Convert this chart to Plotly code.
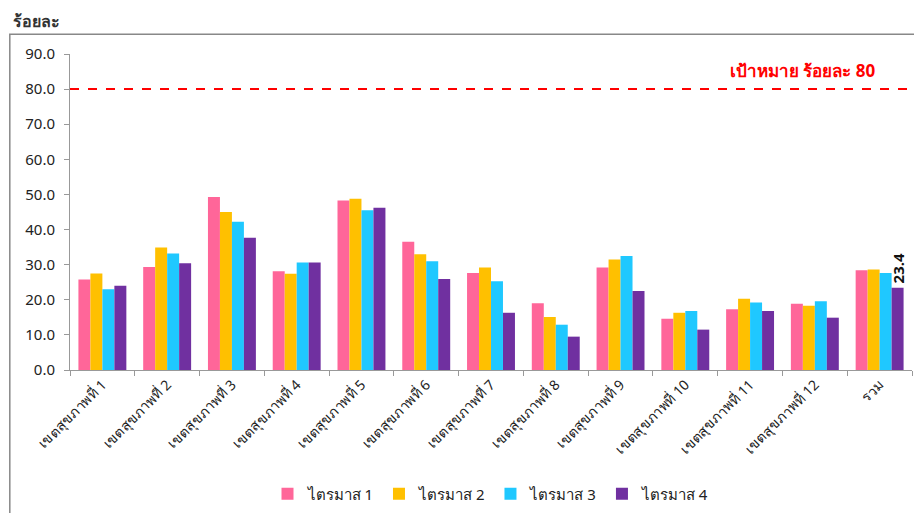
import plotly.graph_objects as go

categories = ["เขตสุขภาพที่ 1", "เขตสุขภาพที่ 2", "เขตสุขภาพที่ 3", "เขตสุขภาพที่ 4",
              "เขตสุขภาพที่ 5", "เขตสุขภาพที่ 6", "เขตสุขภาพที่ 7", "เขตสุขภาพที่ 8",
              "เขตสุขภาพที่ 9", "เขตสุขภาพที่ 10", "เขตสุขภาพที่ 11", "เขตสุขภาพที่ 12", "รวม"]
q1 = [25.8, 29.3, 49.3, 28.1, 48.3, 36.5, 27.6, 19.0, 29.2, 14.6, 17.3, 18.9, 28.4]
q2 = [27.5, 34.9, 45.0, 27.4, 48.8, 33.0, 29.2, 15.1, 31.5, 16.3, 20.3, 18.3, 28.6]
q3 = [23.0, 33.2, 42.2, 30.6, 45.5, 31.0, 25.3, 12.9, 32.5, 16.8, 19.2, 19.6, 27.6]
q4 = [24.0, 30.4, 37.7, 30.6, 46.2, 25.9, 16.3, 9.5, 22.5, 11.5, 16.8, 14.9, 23.4]
series_names = ["ไตรมาส 1", "ไตรมาส 2", "ไตรมาส 3", "ไตรมาส 4"]
colors = ["#FF6699", "#FFC000", "#1FC8FF", "#7030A0"]
target = 80
target_label = "เป้าหมาย ร้อยละ 80"
y_title = "ร้อยละ"

FONT = "Noto Sans, DejaVu Sans, sans-serif"

fig = go.Figure()
for name, vals, c in zip(series_names, [q1, q2, q3, q4], colors):
    fig.add_trace(go.Bar(
        x=categories, y=vals, name=name, marker=dict(color=c, line=dict(width=0)),
    ))

# data label on the last purple bar (total, quarter 4)
bargap = 0.26
cat_px = 842 / len(categories)
bar_px = cat_px * (1 - bargap) / 4
fig.add_annotation(x=categories[-1], y=q4[-1], xref="x", yref="y",
                   text=f"<b>{q4[-1]:.1f}</b>", showarrow=False, textangle=-90,
                   xanchor="center", yanchor="bottom", xshift=1.5 * bar_px, yshift=2,
                   font=dict(size=15, color="#111111", family=FONT))

fig.add_shape(type="line", xref="paper", yref="y", x0=0, x1=1, y0=target, y1=target,
              line=dict(color="#FF0000", width=2, dash="dash"))
fig.add_annotation(xref="paper", yref="y", x=0.96, y=target + 1.5, text=f"<b>{target_label}</b>",
                   showarrow=False, xanchor="right", yanchor="bottom",
                   font=dict(color="#FF0000", size=17, family=FONT))
fig.add_annotation(xref="paper", yref="paper", x=-0.07, y=1.103, text=f"<b>{y_title}</b>",
                   showarrow=False, xanchor="left", yanchor="middle",
                   font=dict(color="#333333", size=16, family=FONT))
# chart frame
fig.add_shape(type="rect", xref="paper", yref="paper", x0=-0.0715, x1=1.01, y0=-0.5, y1=1.0625,
              line=dict(color="#888888", width=1.5), layer="below")

fig.update_layout(
    width=914, height=513,
    margin=dict(l=70, r=2, t=54, b=139),
    paper_bgcolor="white", plot_bgcolor="white",
    barmode="group", bargap=bargap, bargroupgap=0,
    font=dict(family=FONT, color="#222222"),
    showlegend=True,
    legend=dict(orientation="h", x=0.5, xanchor="center", y=-0.34, yanchor="top",
                font=dict(size=15, family=FONT), itemwidth=30, traceorder="normal"),
    xaxis=dict(type="category", tickangle=-45, tickfont=dict(size=14, family=FONT),
               showline=True, linecolor="#999999", linewidth=1,
               ticks="outside", ticklen=5, tickcolor="#999999", tickson="boundaries",
               showgrid=False),
    yaxis=dict(range=[0, 90], dtick=10, tickformat=".1f", tickfont=dict(size=15, family=FONT),
               showline=True, linecolor="#999999", linewidth=1,
               ticks="outside", ticklen=5, tickcolor="#999999", ticklabelstandoff=6,
               showgrid=False, zeroline=False),
)

fig.write_html("out.html")
